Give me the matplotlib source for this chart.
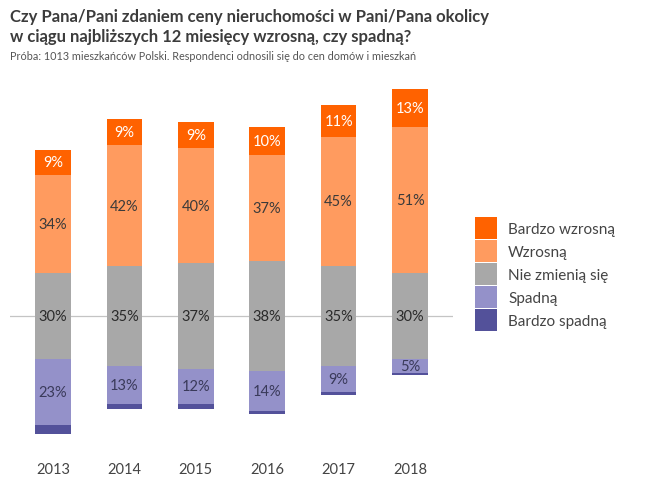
import numpy as np
import matplotlib
matplotlib.use("Agg")
import matplotlib.pyplot as plt
from matplotlib.patches import Patch

# dane z wykresu (%)
lata = ["2013", "2014", "2015", "2016", "2017", "2018"]
bardzo_wzrosna = [9, 9, 9, 10, 11, 13]
wzrosna = [34, 42, 40, 37, 45, 51]
nie_zmienia = [30, 35, 37, 38, 35, 30]
spadna = [23, 13, 12, 14, 9, 5]
bardzo_spadna = [3, 2, 2, 1, 1, 0.5]

etykiety = ["Bardzo wzrosną", "Wzrosną", "Nie zmienią się", "Spadną", "Bardzo spadną"]
kolory = ["#FF6200", "#FF9B5F", "#A8A8A8", "#9491C9", "#53519A"]

plt.rcParams['font.family'] = ['Lato', 'DejaVu Sans']

fig = plt.figure(figsize=(6.5, 4.81), dpi=100)
ax = fig.add_axes([10/650, 1-455/481, 443/650, 375/481])

x = np.arange(len(lata))
w = 0.5
bw = np.array(bardzo_wzrosna)
wz = np.array(wzrosna)
nz = np.array(nie_zmienia)
sp = np.array(spadna)
bs = np.array(bardzo_spadna)

# neutralna czesc wysrodkowana na zerze
dol_nz = -nz/2
ax.bar(x, nz, w, bottom=dol_nz, color=kolory[2], zorder=2)
ax.bar(x, wz, w, bottom=nz/2, color=kolory[1], zorder=2)
ax.bar(x, bw, w, bottom=nz/2+wz, color=kolory[0], zorder=2)
ax.bar(x, -sp, w, bottom=dol_nz, color=kolory[3], zorder=2)
ax.bar(x, -bs, w, bottom=dol_nz-sp, color=kolory[4], zorder=2)

ax.axhline(0, color="#C4C4C4", lw=0.9, zorder=1)

fs = 10.5
for i in range(len(lata)):
    ax.text(x[i], nz[i]/2+wz[i]+bw[i]/2, f"{bw[i]}%", ha="center", va="center", color="white", fontsize=fs, zorder=3)
    ax.text(x[i], nz[i]/2+wz[i]/2, f"{wz[i]}%", ha="center", va="center", color="#3A3A3A", fontsize=fs, zorder=3)
    ax.text(x[i], 0, f"{nz[i]}%", ha="center", va="center", color="#2A2A2A", fontsize=fs, zorder=3)
    ax.text(x[i], -nz[i]/2-sp[i]/2, f"{sp[i]}%", ha="center", va="center", color="#3A3A5A", fontsize=fs, zorder=3)

ax.set_xlim(-0.602, 5.602)
ax.set_ylim(-(455-317)/2.87, (317-80)/2.87)
ax.set_xticks(x)
ax.set_xticklabels(lata, fontsize=fs, color="#444444")
ax.tick_params(axis="x", length=0, pad=6)
ax.set_yticks([])
for s in ax.spines.values():
    s.set_visible(False)

uchwyty = [Patch(facecolor=c, edgecolor="none") for c in kolory]
fig.legend(uchwyty, etykiety, loc="upper left", bbox_to_anchor=(475/650, 1-218/481),
           frameon=False, fontsize=11, handlelength=1.44, handleheight=1.84,
           labelspacing=0.07, handletextpad=0.72, borderpad=0, borderaxespad=0,
           labelcolor="#444444")

fig.text(10/650, 1-17/481, "Czy Pana/Pani zdaniem ceny nieruchomości w Pani/Pana okolicy",
         fontsize=12, fontweight="bold", color="#3C3C3C", va="center", ha="left")
fig.text(10/650, 1-37/481, "w ciągu najbliższych 12 miesięcy wzrosną, czy spadną?",
         fontsize=12, fontweight="bold", color="#3C3C3C", va="center", ha="left")
fig.text(10/650, 1-57/481, "Próba: 1013 mieszkańców Polski. Respondenci odnosili się do cen domów i mieszkań",
         fontsize=7.8, color="#555555", va="center", ha="left")

fig.savefig("out.png", dpi=100)
